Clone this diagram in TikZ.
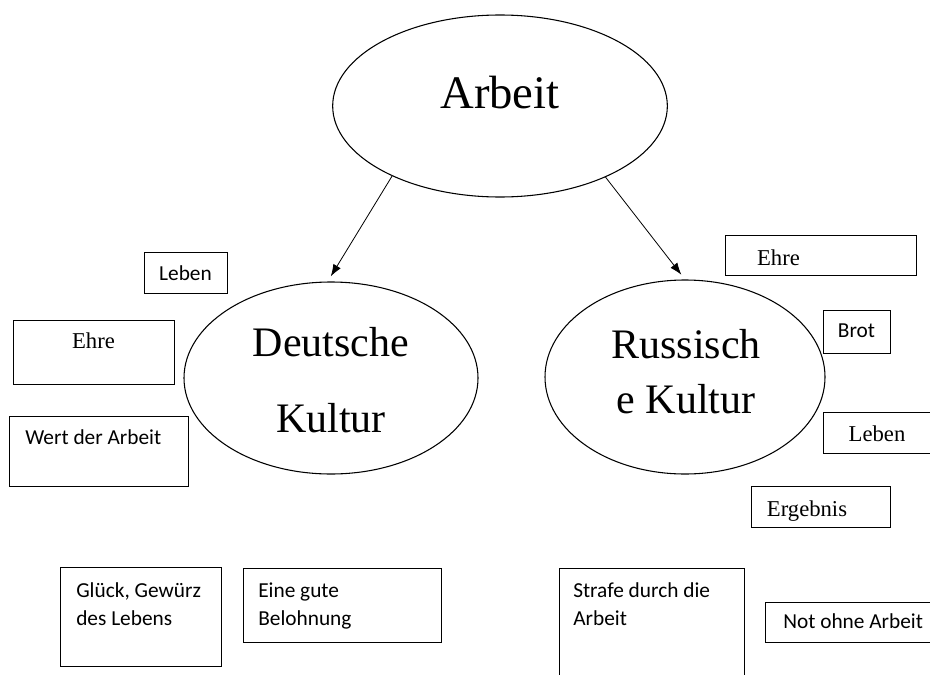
\documentclass[tikz,border=0pt]{standalone}
\usepackage{fontspec}
\setmainfont{Liberation Serif}
\newfontfamily\calib{Carlito}
\usetikzlibrary{shapes.geometric,arrows.meta}
\begin{document}
\begin{tikzpicture}[x=0.75pt,y=-0.75pt,
  oval/.style={draw, ellipse, line width=0.8pt, inner sep=0pt},
  box/.style={draw, rectangle, line width=0.75pt, inner sep=0pt},
  sans/.style={font=\calib\fontsize{16}{21}\selectfont, inner sep=0pt, align=left},
  serif/.style={font=\fontsize{17}{20}\selectfont, inner sep=0pt},
  big/.style={font=\fontsize{31.5}{57}\selectfont, align=center, inner sep=0pt},
  arr/.style={-{Latex[length=9pt,width=6.5pt]}, line width=0.6pt}]
\useasboundingbox (0,0) rectangle (930,674);
\clip (0,0) rectangle (930,674);

% ellipses
\node[oval, minimum width=251pt, minimum height=136.5pt] (ar) at (500,106) {};
\node[font=\fontsize{35}{40}\selectfont, inner sep=0pt, anchor=base] (art) at (500,108) {Arbeit};
\node[oval, minimum width=220.5pt, minimum height=144pt] (de) at (331,378) {};
\node[big, anchor=base] (det) at (331,432) {Deutsche\\Kultur};
\node[oval, minimum width=210pt, minimum height=145.5pt] (ru) at (685,377) {};
\node[big, anchor=base, font=\fontsize{31.5}{41.25}\selectfont] (rut) at (686,413) {Russisch\\e Kultur};

% arrows
\draw[arr, shorten >=4.5pt] (ar.213.6) -- (de.92);
\draw[arr, shorten >=4.5pt] (ar.326.2) -- (ru.north);

% left boxes
\node[box, minimum width=62.25pt, minimum height=30.75pt] (b1) at (185.5,272.5) {};
\node[sans, anchor=base] (t1) at (185.5,280) {Leben};
\node[box, minimum width=120.75pt, minimum height=48pt] (b2) at (93.5,352) {};
\node[serif, anchor=base] (t2) at (93.5,348) {Ehre};
\node[box, minimum width=134.25pt, minimum height=52.5pt] (b3) at (98.5,451) {};
\node[sans, anchor=base west] (t3) at (25,444) {Wert der Arbeit};

% right boxes
\node[box, minimum width=143.25pt, minimum height=30pt] (b4) at (820.5,255) {};
\node[serif, anchor=base] (t4) at (778.5,265) {Ehre};
\node[box, minimum width=50.25pt, minimum height=32.25pt] (b5) at (856.5,331.5) {};
\node[sans, anchor=base] (t5) at (856.5,337) {Brot};
\node[box, minimum width=84pt, minimum height=30.75pt] (b6) at (879,432.5) {};
\node[serif, anchor=base] (t6) at (877,441) {Leben};
\node[box, minimum width=104.25pt, minimum height=30.75pt] (b7) at (820.5,506.5) {};
\node[serif, anchor=base] (t7) at (807,516) {Ergebnis};

% bottom boxes
\node[box, minimum width=120.75pt, minimum height=74.25pt] (b8) at (140.5,616.5) {};
\node[sans, anchor=base west] (t8) at (76,625) {Glück, Gewürz\\des Lebens};
\node[box, minimum width=148.5pt, minimum height=55.5pt] (b9) at (342,605) {};
\node[sans, anchor=base west] (t9) at (258,625) {Eine gute\\Belohnung};
\node[box, minimum width=138.75pt, minimum height=91.5pt] (b10) at (651.5,629) {};
\node[sans, anchor=base west] (t10) at (573,625) {Strafe durch die\\Arbeit};
\node[box, minimum width=131.25pt, minimum height=30pt] (b11) at (852.5,622) {};
\node[sans, anchor=base west] (t11) at (783,628) {Not ohne Arbeit};
\end{tikzpicture}
\end{document}
